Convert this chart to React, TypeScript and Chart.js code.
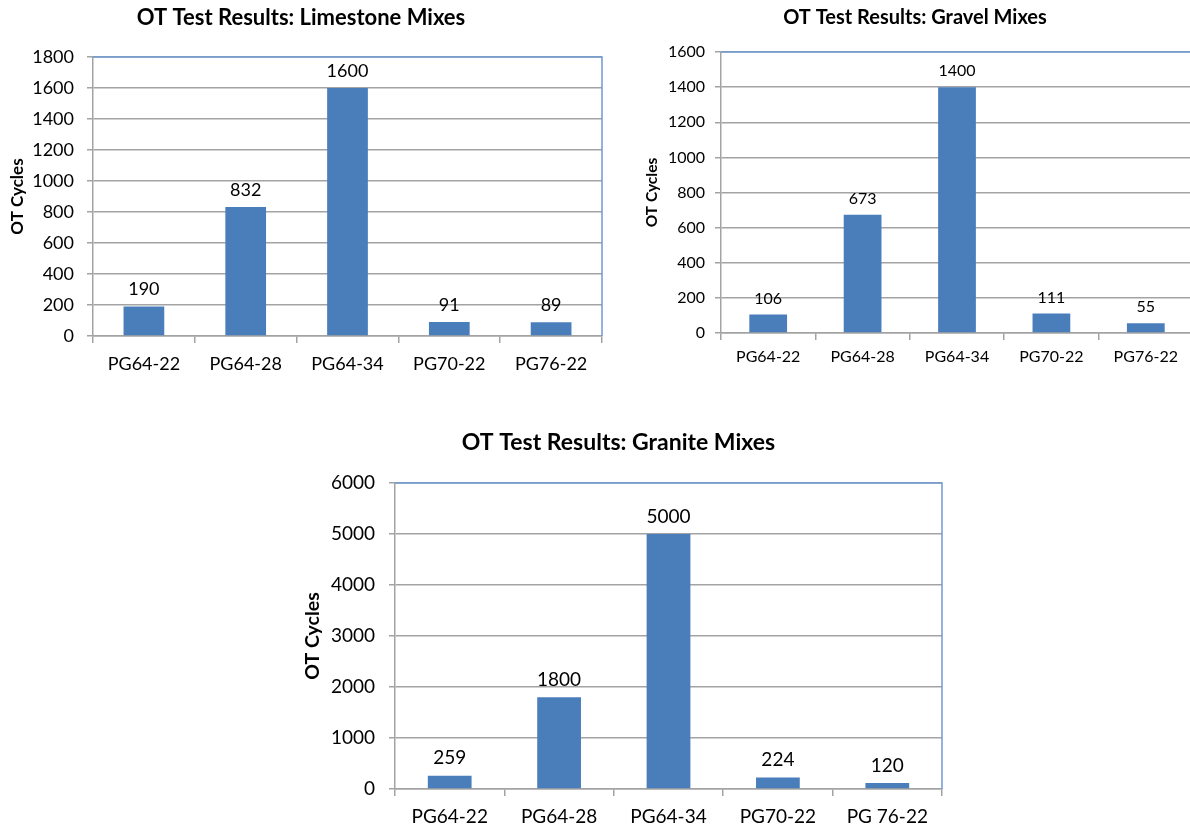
import React, { useEffect, useRef } from "react";
import { Chart, registerables } from "chart.js";

Chart.register(...registerables);

const limestoneCategories = ["PG64-22", "PG64-28", "PG64-34", "PG70-22", "PG76-22"];
const limestoneValues = [190, 832, 1600, 91, 89];
const limestoneYTicks = [0, 200, 400, 600, 800, 1000, 1200, 1400, 1600, 1800];

const gravelCategories = ["PG64-22", "PG64-28", "PG64-34", "PG70-22", "PG76-22"];
const gravelValues = [106, 673, 1400, 111, 55];
const gravelYTicks = [0, 200, 400, 600, 800, 1000, 1200, 1400, 1600];

const graniteCategories = ["PG64-22", "PG64-28", "PG64-34", "PG70-22", "PG 76-22"];
const graniteValues = [259, 1800, 5000, 224, 120];
const graniteYTicks = [0, 1000, 2000, 3000, 4000, 5000, 6000];

const FONT = "Lato, 'Open Sans', sans-serif";
const BAR = "#4a7ebb";
const GRID = "#a3a3a3";
const FRAME = "#6f9ad2";

const dataLabelPlugin = {
  id: "dataLabels",
  afterDatasetsDraw(chart: any) {
    const size = chart.options.plugins.dataLabels?.size ?? 16;
    const gap = chart.options.plugins.dataLabels?.gap ?? 8;
    const ctx = chart.ctx;
    ctx.save();
    ctx.font = `${size}px ${FONT}`;
    ctx.fillStyle = "#000";
    ctx.textAlign = "center";
    ctx.textBaseline = "bottom";
    chart.data.datasets.forEach((ds: any, i: number) => {
      const meta = chart.getDatasetMeta(i);
      meta.data.forEach((el: any, j: number) => {
        ctx.fillText(String(ds.data[j]), el.x, el.y - gap);
      });
    });
    ctx.restore();
  },
};

const framePlugin = {
  id: "frame",
  afterDraw(chart: any) {
    const { top, right, left, bottom } = chart.chartArea;
    const ctx = chart.ctx;
    ctx.save();
    ctx.strokeStyle = FRAME;
    ctx.lineWidth = 1.5;
    ctx.beginPath();
    ctx.moveTo(left, top);
    ctx.lineTo(right, top);
    ctx.lineTo(right, bottom);
    ctx.stroke();
    ctx.restore();
  },
};

type Panel = {
  left: number;
  top: number;
  width: number;
  height: number;
  padRight: number;
  yAxisWidth: number;
  xAxisHeight: number;
  title: string;
  titleSize: number;
  titleCenter: number;
  areaTop: number;
  yTitleSize: number;
  yTitleX: number;
  tickSize: number;
  yTickPad: number;
  xTickPad: number;
  labelSize: number;
  categories: string[];
  values: number[];
  yTicks: number[];
};

function BarPanel({ p }: { p: Panel }) {
  const ref = useRef<HTMLCanvasElement | null>(null);
  useEffect(() => {
    if (!ref.current) return;
    const tLH = p.titleSize * 1.2;
    const tPadTop = p.titleCenter - tLH / 2;
    const tPadBottom = p.areaTop - tPadTop - tLH;
    const yLH = p.yTitleSize * 1.2;
    const step = p.yTicks[1] - p.yTicks[0];
    const chart = new Chart(ref.current, {
      type: "bar",
      data: {
        labels: p.categories,
        datasets: [
          {
            data: p.values,
            backgroundColor: BAR,
            borderWidth: 0,
            barPercentage: 0.4,
            categoryPercentage: 1,
          },
        ],
      },
      options: {
        animation: false,
        responsive: false,
        devicePixelRatio: 1,
        layout: { padding: { left: 0, right: p.padRight, top: 0, bottom: 0 } },
        plugins: {
          legend: { display: false },
          tooltip: { enabled: false },
          title: {
            display: true,
            text: p.title,
            color: "#000",
            font: { family: FONT, size: p.titleSize, weight: "bold" },
            padding: { top: tPadTop, bottom: tPadBottom },
          },
          dataLabels: { size: p.labelSize, gap: 8 },
        } as any,
        scales: {
          x: {
            grid: {
              offset: true,
              drawOnChartArea: false,
              drawTicks: true,
              tickLength: 7,
              color: GRID,
              lineWidth: 1.5,
            },
            border: { display: true, color: GRID, width: 1.5 },
            ticks: {
              color: "#000",
              font: { family: FONT, size: p.tickSize },
              padding: p.xTickPad,
              maxRotation: 0,
              autoSkip: false,
            },
            afterFit: (s: any) => {
              s.height = p.xAxisHeight;
            },
          },
          y: {
            min: p.yTicks[0],
            max: p.yTicks[p.yTicks.length - 1],
            grid: {
              color: GRID,
              lineWidth: 1.5,
              tickLength: 6,
            },
            border: { display: true, color: GRID, width: 1.5 },
            ticks: {
              stepSize: step,
              color: "#000",
              font: { family: FONT, size: p.tickSize },
              padding: p.yTickPad,
              callback: (v: any) => String(v),
            },
            title: {
              display: true,
              text: "OT Cycles",
              color: "#000",
              font: { family: FONT, size: p.yTitleSize, weight: "bold" },
              padding: { top: p.yTitleX - yLH / 2, bottom: 0 },
            },
            afterFit: (s: any) => {
              s.width = p.yAxisWidth;
            },
          },
        },
      },
      plugins: [dataLabelPlugin, framePlugin],
    });
    return () => chart.destroy();
  }, [p]);
  return (
    <canvas
      ref={ref}
      width={p.width}
      height={p.height}
      style={{ position: "absolute", left: p.left, top: p.top, width: p.width, height: p.height }}
    />
  );
}

const panels: Panel[] = [
  {
    left: 0, top: 0, width: 615, height: 385, padRight: 13,
    yAxisWidth: 93, xAxisHeight: 385 - 336,
    title: "OT Test Results: Limestone Mixes", titleSize: 22, titleCenter: 18, areaTop: 57,
    yTitleSize: 17, yTitleX: 18, tickSize: 18, yTickPad: 13, xTickPad: 10, labelSize: 18,
    categories: limestoneCategories, values: limestoneValues, yTicks: limestoneYTicks,
  },
  {
    left: 637, top: 0, width: 563, height: 380, padRight: 7,
    yAxisWidth: 721 - 637, xAxisHeight: 380 - 333,
    title: "OT Test Results: Gravel Mixes", titleSize: 20, titleCenter: 18, areaTop: 52,
    yTitleSize: 15.5, yTitleX: 652 - 637, tickSize: 16, yTickPad: 10, xTickPad: 7, labelSize: 16,
    categories: gravelCategories, values: gravelValues, yTicks: gravelYTicks,
  },
  {
    left: 295, top: 420, width: 665, height: 410, padRight: 18,
    yAxisWidth: 100, xAxisHeight: 410 - 369,
    title: "OT Test Results: Granite Mixes", titleSize: 23, titleCenter: 23, areaTop: 63,
    yTitleSize: 19.5, yTitleX: 18, tickSize: 19, yTickPad: 14, xTickPad: 9, labelSize: 19,
    categories: graniteCategories, values: graniteValues, yTicks: graniteYTicks,
  },
];

export default function App() {
  return (
    <div
      style={{
        position: "absolute",
        left: 0,
        top: 0,
        width: 1190,
        height: 830,
        overflow: "hidden",
        background: "#fff",
      }}
    >
      {panels.map((p, i) => (
        <BarPanel key={i} p={p} />
      ))}
    </div>
  );
}
